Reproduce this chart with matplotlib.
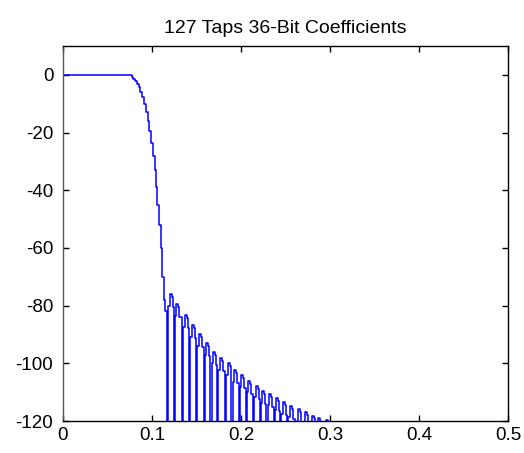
import matplotlib
matplotlib.use("Agg")
import matplotlib.pyplot as plt
import numpy as np

plt.rcParams["axes.unicode_minus"] = False

trans_f = [0.0, 0.0772, 0.0790, 0.0810, 0.0830, 0.0850, 0.0870, 0.0890, 0.0910,
           0.0930, 0.0950, 0.0970, 0.0990, 0.1010, 0.1030, 0.1045, 0.1060,
           0.1080, 0.1098, 0.1115, 0.1130, 0.1145]
trans_db = [0.0, -0.7, -1.5, -2.3, -3.2, -4.3, -5.8, -7.7, -10.0,
            -12.8, -16.0, -19.5, -23.5, -28.0, -33.0, -39.0, -45.0,
            -52.0, -60.0, -70.0, -78.0, -81.7]

# stopband sidelobes: peak frequency and peak level
lobe_f = [0.1213, 0.1284, 0.1382, 0.1457, 0.1539, 0.1621, 0.1697, 0.1772,
          0.1862, 0.1933, 0.2015, 0.2093, 0.2176, 0.2251, 0.2326, 0.2408,
          0.2483, 0.2558, 0.2652, 0.2730, 0.2806, 0.2880, 0.2963]
lobe_db = [-76.1, -79.5, -83.3, -86.8, -90.0, -93.1, -96.0, -98.3,
           -100.0, -102.4, -104.1, -106.1, -107.8, -109.6, -110.6, -112.1,
           -113.5, -114.7, -115.9, -117.0, -118.1, -119.0, -119.6]
null_db = -135.0
tail_db = -140.0

# build the staircase
f = list(trans_f)
h = list(trans_db)
for fp, p in zip(lobe_f, lobe_db):
    f += [fp - 0.0042, fp - 0.0028, fp - 0.0012, fp + 0.0010, fp + 0.0022]
    h += [null_db, p - 4.0, p, p - 1.0, p - 4.5]
f += [lobe_f[-1] + 0.0035, 0.5]
h += [tail_db, tail_db]

fig = plt.figure(figsize=(5.24, 4.53), dpi=100)
ax = fig.add_axes([0.1202, 0.0706, 0.8493, 0.8279])
ax.plot(f, h, color="#0000ff", lw=1.1, drawstyle="steps-post")

ax.set_xlim(0, 0.5)
ax.set_ylim(-120, 10)
ax.set_xticks([0, 0.1, 0.2, 0.3, 0.4, 0.5])
ax.set_xticklabels(["0", "0.1", "0.2", "0.3", "0.4", "0.5"])
ax.set_yticks([0, -20, -40, -60, -80, -100, -120])
ax.tick_params(direction="in", length=4, width=1, top=True, right=True,
               labelsize=13.5, pad=4)
ax.tick_params(axis="y", pad=7)
for lab in ax.get_xticklabels() + ax.get_yticklabels():
    lab.set_family("Liberation Sans")
for s in ax.spines.values():
    s.set_linewidth(1)
ax.spines["left"].set_color("#555555")

ax.set_title("127 Taps 36-Bit Coefficients", family="Liberation Sans",
             fontsize=14, pad=9)

plt.savefig("out.png", dpi=100)
